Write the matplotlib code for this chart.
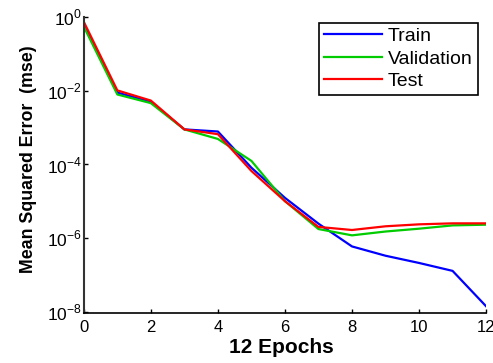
import matplotlib.pyplot as plt

# Performance of the network per training epoch
epochs = list(range(13))
train_mse = [0.65, 0.0089, 0.0050, 0.00089, 0.00078, 8.1e-5, 1.23e-5,
             2.45e-6, 5.9e-7, 3.3e-7, 2.1e-7, 1.28e-7, 1.4e-8]
val_mse = [0.55, 0.0079, 0.0046, 0.00089, 0.00049, 1.24e-4, 1.0e-5,
           1.75e-6, 1.18e-6, 1.5e-6, 1.79e-6, 2.2e-6, 2.3e-6]
test_mse = [0.74, 0.0102, 0.0054, 0.00089, 0.00066, 6.6e-5, 1.0e-5,
            2.0e-6, 1.65e-6, 2.08e-6, 2.35e-6, 2.5e-6, 2.5e-6]
xticks = [0, 2, 4, 6, 8, 10, 12]
yticks = [1e-8, 1e-6, 1e-4, 1e-2, 1e0]

plt.rcParams['font.family'] = ['Liberation Sans', 'DejaVu Sans']
plt.rcParams['mathtext.fontset'] = 'custom'
plt.rcParams['mathtext.rm'] = 'Liberation Sans'

fig = plt.figure(figsize=(4.93, 3.63), dpi=100)
ax = fig.add_axes([0.170, 0.137, 0.816, 0.816])

ax.plot(epochs, train_mse, color='#0000ff', lw=1.6, label='Train')
ax.plot(epochs, val_mse, color='#00cc00', lw=1.6, label='Validation')
ax.plot(epochs, test_mse, color='#ff0000', lw=1.6, label='Test')

ax.set_yscale('log')
ax.set_xlim(0, 12)
ax.set_ylim(10 ** -8.044, 1)
ax.set_xticks(xticks)
ax.set_yticks(yticks)
ax.set_yticklabels([r'$10^{%d}$' % p for p in (-8, -6, -4, -2, 0)])
ax.minorticks_off()
ax.tick_params(direction='in', length=3, width=1)
ax.tick_params(axis='y', labelsize=12.5, pad=1.5)
ax.tick_params(axis='x', labelsize=12, pad=5)

for side in ('top', 'right'):
    ax.spines[side].set_visible(False)
ax.spines['left'].set_color('#333333')
ax.spines['left'].set_linewidth(1.5)
ax.spines['bottom'].set_linewidth(1.2)

ax.set_xlabel('12 Epochs', fontsize=15, fontweight='bold')
ax.xaxis.set_label_coords(0.49, -0.085)
ax.set_ylabel('Mean Squared Error  (mse)', fontsize=12.8, fontweight='bold')
ax.yaxis.set_label_coords(-0.117, 0.52)

leg = ax.legend(loc='upper right', bbox_to_anchor=(0.969, 0.9375),
                bbox_transform=fig.transFigure, borderaxespad=0,
                fancybox=False, edgecolor='black', framealpha=1,
                fontsize=14, handlelength=3.0, handletextpad=0.31,
                labelspacing=0.25, borderpad=0.25)
leg.get_frame().set_linewidth(1.2)

fig.savefig('out.png', dpi=100)
